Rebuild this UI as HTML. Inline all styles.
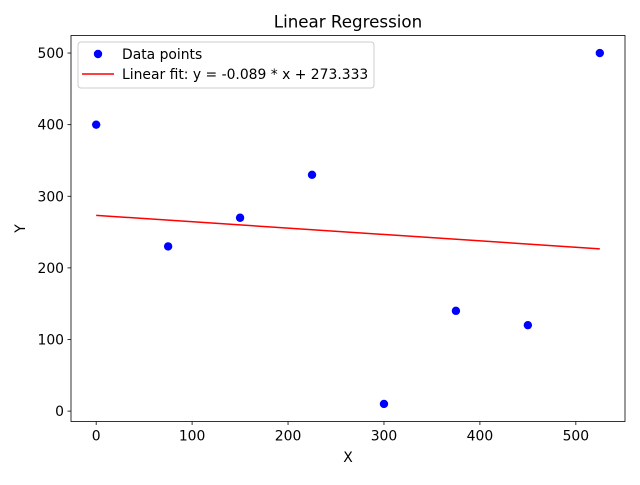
<!DOCTYPE html>
<html><head><meta charset="utf-8"><style>
body{margin:0;background:#fff;font-family:"Liberation Sans","DejaVu Sans",sans-serif}
svg text{font-family:"DejaVu Sans","Liberation Sans",sans-serif;font-size:13.9px;fill:#000}
</style></head><body>
<svg id="chart" width="640" height="480"></svg>
<script>
const xs=[0,75,150,225,300,375,450,525];
const ys=[400,230,270,330,10,140,120,500];
const slope=-0.089, intercept=273.333;
const xTicks=[0,100,200,300,400,500];
const yTicks=[0,100,200,300,400,500];
const L=71,R=625,T=35.5,B=421.5;
const xmin=-26.25,xmax=551.25,ymin=-14.5,ymax=524.5;
const sx=v=>L+(v-xmin)/(xmax-xmin)*(R-L);
const sy=v=>B-(v-ymin)/(ymax-ymin)*(B-T);
const svg=document.getElementById('chart');
const NS='http://www.w3.org/2000/svg';
function mk(t,a){const e=document.createElementNS(NS,t);for(const k in a)e.setAttribute(k,a[k]);svg.appendChild(e);return e;}
let e;
e=mk('rect',{x:L,y:T,width:R-L,height:B-T,fill:'none',stroke:'#000','stroke-width':0.8});


xTicks.forEach(v=>{
 e=mk('line',{x1:sx(v),x2:sx(v),y1:B,y2:B+3.5,stroke:'#000','stroke-width':0.8});
 
 
 e=mk('text',{x:sx(v),y:B+19,'text-anchor':'middle'});e.textContent=v;
 
 
});
yTicks.forEach(v=>{
 e=mk('line',{x1:L-3.5,x2:L,y1:sy(v),y2:sy(v),stroke:'#000','stroke-width':0.8});
 
 
 e=mk('text',{x:L-7,y:sy(v)+5,'text-anchor':'end'});e.textContent=v;
 
 
});
xs.forEach((x,i)=>{
 e=mk('circle',{cx:sx(x),cy:sy(ys[i]),r:4.2,fill:'#0000ff'});
 
 
});
const x0=xs[0],x1=xs[xs.length-1];
e=mk('line',{x1:sx(x0),y1:sy(slope*x0+intercept),x2:sx(x1),y2:sy(slope*x1+intercept),stroke:'#ff0000','stroke-width':1.5});


e=mk('text',{x:(L+R)/2,y:T-8,'text-anchor':'middle'});e.textContent='Linear Regression';e.style.fontSize='16.7px';


e=mk('text',{x:(L+R)/2,y:462,'text-anchor':'middle'});e.textContent='X';


e=mk('text',{x:25,y:(T+B)/2,'text-anchor':'middle',transform:`rotate(-90 25 ${(T+B)/2})`});e.textContent='Y';


e=mk('rect',{x:78,y:42,width:296,height:46,rx:3,fill:'#fff','fill-opacity':0.8,stroke:'#ccc'});


e=mk('circle',{cx:98,cy:54,r:4.2,fill:'#0000ff'});


e=mk('text',{x:122,y:59});e.textContent='Data points';


e=mk('line',{x1:82,x2:114,y1:74,y2:74,stroke:'#ff0000','stroke-width':1.5});


e=mk('text',{x:122,y:79});e.textContent='Linear fit: y = -0.089 * x + 273.333';


</script>
</body></html>
